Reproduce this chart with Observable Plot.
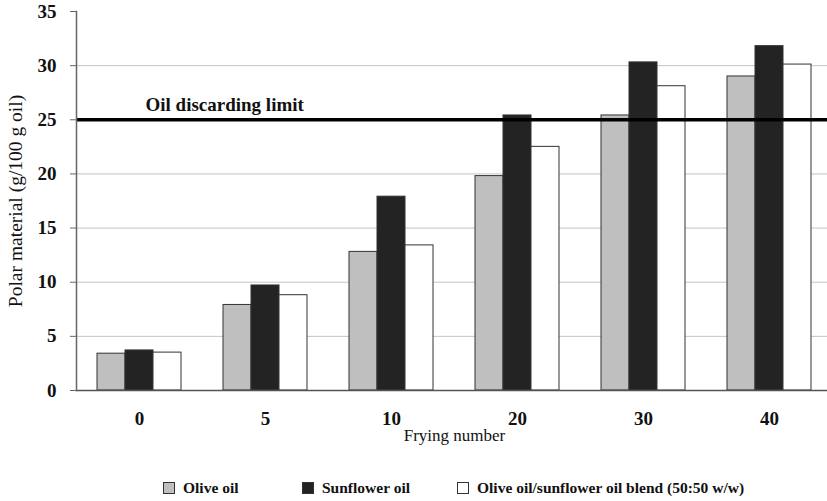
<!DOCTYPE html>
<html>
<head>
<meta charset="utf-8">
<script src="https://cdn.jsdelivr.net/npm/d3@7"></script>
<script src="https://cdn.jsdelivr.net/npm/@observablehq/plot@0.6"></script>
<style>
  html, body { margin: 0; padding: 0; background: #fff; overflow: hidden; }
  #chart { width: 827px; height: 470px; }
  #legend { position: relative; width: 827px; height: 31px; font-family: "Liberation Serif", serif; font-weight: bold; font-size: 15.5px; color: #111; }
  .item { position: absolute; top: 9px; display: flex; align-items: center; white-space: nowrap; }
  .sw { width: 12px; height: 12px; border: 1px solid #333; margin-right: 8px; box-sizing: border-box; }
</style>
</head>
<body>
<div id="chart"></div>
<div id="legend"></div>
<script>
const frying = ["0", "5", "10", "20", "30", "40"];
const series = ["Olive oil", "Sunflower oil", "Olive oil/sunflower oil blend (50:50 w/w)"];
const olive = [3.4, 7.9, 12.8, 19.8, 25.4, 29.0];
const sunflower = [3.7, 9.7, 17.9, 25.4, 30.3, 31.8];
const blend = [3.5, 8.8, 13.4, 22.5, 28.1, 30.1];
const yTicks = [0, 5, 10, 15, 20, 25, 30, 35];
const gridTicks = [5, 10, 15, 20, 30];
const limitValue = 25;
const limitLabel = "Oil discarding limit";
const xTitle = "Frying number";
const yTitle = "Polar material (g/100 g oil)";
const colors = ["#bfbfbf", "#232323", "#ffffff"];

const valuesBySeries = [olive, sunflower, blend];
const data = [];
frying.forEach((f, i) => {
  series.forEach((s, j) => data.push({frying: f, series: s, value: valuesBySeries[j][i]}));
});

const chart = Plot.plot({
  width: 827,
  height: 470,
  marginLeft: 76,
  marginRight: -5,
  marginTop: 11,
  marginBottom: 80,
  style: {fontFamily: "Liberation Serif, serif", background: "white", color: "#111", overflow: "visible"},
  fx: {domain: frying, padding: 0, label: null},
  x: {domain: series, paddingInner: 0, paddingOuter: 0.7235, axis: null},
  y: {domain: [0, 35], label: null},
  color: {domain: series, range: colors},
  marks: [
    Plot.ruleY(gridTicks, {stroke: "#c4c4c4", strokeWidth: 1}),
    Plot.barY(data, {fx: "frying", x: "series", y: "value", fill: "series", stroke: "#333", strokeWidth: 1}),
    Plot.ruleY([limitValue], {stroke: "#000", strokeWidth: 3.5}),
    Plot.text([limitLabel], {facetAnchor: "left", text: d => d, y: () => limitValue, frameAnchor: "left", textAnchor: "start", dx: 69, dy: -15, fontSize: 19, fontWeight: "bold"}),
    Plot.ruleY([0], {stroke: "#555", strokeWidth: 1.5}),
    Plot.frame({facetAnchor: "left", anchor: "left", stroke: "#666", strokeWidth: 1.5}),
    Plot.axisY({ticks: yTicks, tickSize: 6, tickPadding: 14, fontSize: 19, fontWeight: "bold", stroke: "#666", label: null}),
    Plot.axisFx({anchor: "bottom", tickSize: 0, tickPadding: 21, fontSize: 19, fontWeight: "bold", label: null}),
    Plot.text([xTitle], {facet: "super", text: d => d, frameAnchor: "bottom", dy: 50, fontSize: 17}),
    Plot.text([yTitle], {facetAnchor: "left", text: d => d, frameAnchor: "left", textAnchor: "middle", rotate: -90, dx: -61, fontSize: 19.5})
  ]
});
document.getElementById("chart").appendChild(chart);

const legend = document.getElementById("legend");
const legendLeft = [163, 302, 457];
series.forEach((s, j) => {
  const item = document.createElement("div");
  item.className = "item";
  item.style.left = legendLeft[j] + "px";
  const sw = document.createElement("span");
  sw.className = "sw";
  sw.style.background = colors[j];
  const t = document.createElement("span");
  t.textContent = s;
  item.appendChild(sw);
  item.appendChild(t);
  legend.appendChild(item);
});
</script>
</body>
</html>
